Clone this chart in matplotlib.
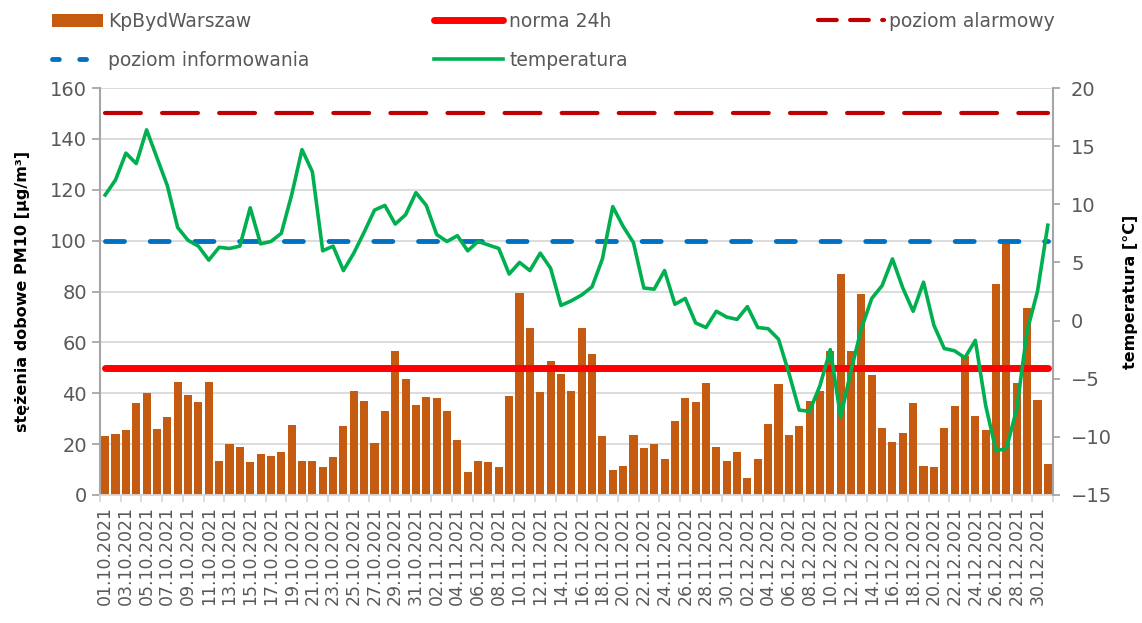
import matplotlib
matplotlib.use('Agg')
import matplotlib.pyplot as plt
import numpy as np
import pandas as pd
from matplotlib.lines import Line2D
from matplotlib.patches import Patch

# data
dates = pd.date_range('2021-10-01', '2021-12-31', freq='D').strftime('%d.%m.%Y').tolist()

pm10 = [23, 24, 25.5, 36, 40, 26, 30.5, 44.5, 39.5, 36.5, 44.5, 13.5, 20, 19, 13, 16, 15.5, 17, 27.5, 13.5, 13.5, 11, 15,
        27, 41, 37, 20.5, 33, 56.5, 45.5, 35.5, 38.5, 38, 33, 21.5, 9, 13.5, 13, 11, 39, 79.5, 65.5, 40.5, 52.5, 47.5, 41,
        65.5, 55.5, 23, 10, 11.5, 23.5, 18.5, 20, 14, 29, 38, 36.5, 44, 19, 13.5, 17, 6.5, 14, 28, 43.5, 23.5, 27, 37, 41,
        56.5, 87, 56.5, 79, 47, 26.5, 21, 24.5, 36, 11.5, 11, 26.5, 35, 54.5, 31, 25.5, 83, 99, 44, 73.5, 37.5, 12]

temperatura = [10.8, 12.1, 14.4, 13.5, 16.4, 14.0, 11.6, 8.0, 6.9, 6.4, 5.2, 6.3, 6.2, 6.4, 9.7, 6.6, 6.8, 7.5, 10.8, 14.7, 12.8, 6.0, 6.4,
               4.3, 5.8, 7.6, 9.5, 9.9, 8.3, 9.1, 11.0, 9.9, 7.4, 6.8, 7.3, 6.0, 6.8, 6.5, 6.2, 4.0, 5.0, 4.3, 5.8, 4.5, 1.3, 1.7,
               2.2, 2.9, 5.3, 9.8, 8.1, 6.7, 2.8, 2.7, 4.3, 1.4, 1.9, -0.2, -0.6, 0.8, 0.3, 0.1, 1.2, -0.6, -0.7, -1.6, -4.5, -7.7, -7.8, -5.6,
               -2.5, -8.3, -4.3, -0.7, 1.9, 3.0, 5.3, 2.8, 0.8, 3.3, -0.4, -2.4, -2.6, -3.2, -1.7, -7.3, -11.2, -11.0, -7.6, -0.9, 2.5, 8.2]

norma_24h = 50
poziom_informowania = 100
poziom_alarmowy = 150

BAR_C = '#C55A11'
GRAY_TXT = '#595959'
AXIS_C = '#A6A6A6'

n = len(dates)
x = np.arange(n)

fig = plt.figure(figsize=(11.42, 6.23), dpi=100)
ax = fig.add_axes([100 / 1142, 1 - 495 / 623, 953 / 1142, 407 / 623])

ax.bar(x, pm10, width=0.78, color=BAR_C, zorder=2)
ax.plot(x, np.full(n, norma_24h), color='#FF0000', lw=5, solid_capstyle='round', zorder=3)
ax.plot(x, np.full(n, poziom_alarmowy), color='#C00000', lw=3, dashes=(8.6, 5.1),
        dash_capstyle='round', zorder=3)
ax.plot(x, np.full(n, poziom_informowania), color='#0070C0', lw=3.5, dashes=(3.9, 5.3),
        dash_capstyle='round', zorder=3)

ax.set_xlim(-0.5, n - 0.5)
ax.set_ylim(0, 160)
ax.set_yticks(np.arange(0, 161, 20))
ax.grid(axis='y', color='#D9D9D9', lw=1.3)
ax.set_axisbelow(True)

ax.set_xticks(x[::2])
ax.set_xticklabels(dates[::2], rotation=90, fontsize=12.5, color=GRAY_TXT)
ax.set_xticks(np.arange(-0.5, n, 2), minor=True)
ax.tick_params(axis='x', which='major', length=0, pad=8)
ax.tick_params(axis='x', which='minor', length=5, color='#D9D9D9', width=1.3)
ax.tick_params(axis='y', labelsize=14, labelcolor=GRAY_TXT, length=6, color=AXIS_C, width=1.3)

for s in ['top', 'right']:
    ax.spines[s].set_visible(False)
ax.spines['left'].set_color(AXIS_C)
ax.spines['left'].set_linewidth(1.5)
ax.spines['bottom'].set_color('#D9D9D9')
ax.spines['bottom'].set_linewidth(1.3)

ax.set_ylabel('stężenia dobowe PM10 [µg/m³]', fontsize=11.5, fontweight='bold', labelpad=14)

ax2 = ax.twinx()
ax2.plot(x, temperatura, color='#00B050', lw=2.6, zorder=4)
ax2.set_ylim(-15, 20)
ax2.set_yticks(np.arange(-15, 21, 5))
ax2.tick_params(axis='y', labelsize=14, labelcolor=GRAY_TXT, length=5, color=AXIS_C, width=1.3, pad=8)
for s in ['top', 'left', 'bottom']:
    ax2.spines[s].set_visible(False)
ax2.spines['right'].set_color(AXIS_C)
ax2.spines['right'].set_linewidth(1.5)
ax2.set_ylabel('temperatura [°C]', fontsize=11.5, fontweight='bold', labelpad=8)

# legend, three columns placed like the reference
leg_kw = dict(frameon=False, fontsize=13.5, labelcolor=GRAY_TXT,
              handletextpad=0.3, labelspacing=1.05, borderaxespad=0, borderpad=0)
h_bar = Patch(facecolor=BAR_C)
h_norma = Line2D([], [], color='#FF0000', lw=5, solid_capstyle='round')
h_alarm = Line2D([], [], color='#C00000', lw=3, dashes=(4.5, 3.2), dash_capstyle='round')
h_info = Line2D([], [], color='#0070C0', lw=3.5, dashes=(1.4, 4.2), dash_capstyle='round')
h_temp = Line2D([], [], color='#00B050', lw=2.6)

top = 1 - 12 / 623
leg1 = fig.legend([h_bar, h_info], ['KpBydWarszaw', 'poziom informowania'], handlelength=2.7,
                  loc='upper left', bbox_to_anchor=(52 / 1142, top), **leg_kw)
leg2 = fig.legend([h_norma, h_temp], ['norma 24h', 'temperatura'], handlelength=3.7,
                  loc='upper left', bbox_to_anchor=(434 / 1142, top), **leg_kw)
leg3 = fig.legend([h_alarm], ['poziom alarmowy'], handlelength=3.5,
                  loc='upper left', bbox_to_anchor=(818 / 1142, top), **leg_kw)

fig.savefig('out.png', dpi=100)
